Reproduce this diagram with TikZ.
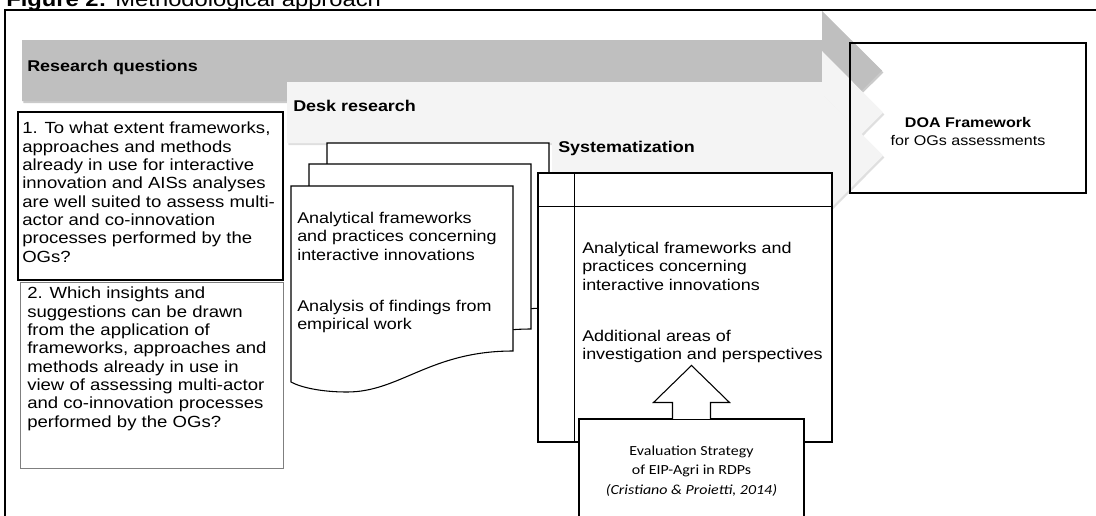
\documentclass[tikz,border=0pt]{standalone}
\usepackage{fontspec}
\setmainfont{Liberation Sans}[FakeStretch=1.15]
\newfontfamily\evalfont{Carlito}[FakeStretch=1.15]
\usepackage{xcolor}
\usepackage{tikz}
\usetikzlibrary{positioning,calc,fit,shadows}
\definecolor{rqgray}{HTML}{BFBFBF}
\definecolor{steplight}{HTML}{F4F4F4}
\definecolor{qgray}{HTML}{7F7F7F}
\tikzset{
  rqarrow/.style={fill=rqgray, drop shadow={shadow xshift=1pt, shadow yshift=-1.5pt, opacity=0.35, fill=black!60}},
  lightarrow/.style={fill=steplight, drop shadow={shadow xshift=1pt, shadow yshift=-1.5pt, opacity=0.25, fill=black!50}},
  steplabel/.style={font=\fontsize{11.7}{13.7}\selectfont\bfseries, anchor=base west, inner sep=0pt},
  qbox/.style={draw, fill=white, line width=1.1pt, inner sep=0pt},
  qtext/.style={font=\fontsize{12.1}{13.75}\selectfont, align=left, anchor=north west, inner sep=0pt},
  pagebox/.style={draw, fill=white, line width=0.8pt},
  bodytext/.style={font=\fontsize{11.7}{13.75}\selectfont, align=left, anchor=north west, inner sep=0pt},
  tabbox/.style={draw, fill=white, line width=0.9pt, inner sep=0pt},
  outbox/.style={draw, line width=0.8pt, inner sep=0pt},
}

\begin{document}
\begin{tikzpicture}[x=0.75pt, y=-0.75pt]
  \useasboundingbox (0,0) rectangle (1096,515);
  \clip (0,0) rectangle (1096,515);

  % Caption and frame
  \node[font=\fontsize{15.5}{18}\selectfont, anchor=base west, inner sep=0pt] (title) at (6,6) {\textbf{Figure 2:} Methodological approach};
  \draw[line width=1.5pt] (5,520) -- (5,9.5) -- (1100,9.5);

  % Research questions
  \fill[rqarrow] (22,40) -- (822,40) -- (822,11) -- (882,70.5) -- (822,130) -- (822,101) -- (22,101) -- cycle;
  \node[steplabel] (rq) at (27,71) {Research questions};

  \node[qbox, fit={(18,112) (283,280)}] (q1) {};
  \node[qtext] (q1txt) at (22,122) {1. To what extent frameworks,\\approaches and methods\\already in use for interactive\\innovation and AISs analyses\\are well suited to assess multi-\\actor and co-innovation\\processes performed by the\\OGs?};
  \node[qbox, draw=qgray, line width=0.6pt, fit={(20,282) (283,468)}] (q2) {};
  \node[qtext] (q2txt) at (27,287) {2. Which insights and\\suggestions can be drawn\\from the application of\\frameworks, approaches and\\methods already in use in\\view of assessing multi-actor\\and co-innovation processes\\performed by the OGs?};

  % Desk research
  \fill[lightarrow] (287,82) -- (822,82) -- (822,51) -- (883,112.5) -- (822,174) -- (822,143) -- (287,143) -- cycle;
  \node[steplabel] (desk) at (293,111) {Desk research};

  \foreach \dx/\dy in {36/-43, 18/-22, 0/0}
    \draw[pagebox, shift={(\dx,\dy)}] (291,186) -- (513,186) -- (513,351)
      .. controls (430,351) and (400,392) .. (347,392)
      .. controls (320,392) and (300,387) .. (291,382) -- cycle;
  \node[bodytext] (pgtxtA) at (297,212) {Analytical frameworks\\and practices concerning\\interactive innovations};
  \node[bodytext] (pgtxtB) at (297,300) {Analysis of findings from\\empirical work};

  % Systematization
  \fill[lightarrow] (552,125) -- (822,125) -- (822,94) -- (883,155.5) -- (822,217) -- (822,186) -- (552,186) -- cycle;
  \node[steplabel] (syst) at (558,152) {Systematization};

  \node[tabbox, fit={(538,173) (832,442)}] (systab) {};
  \draw[line width=0.9pt] ($(systab.north west)+(37,0)$) -- ($(systab.south west)+(37,0)$);
  \draw[line width=0.9pt] ($(systab.north west)+(0,34)$) -- ($(systab.north east)+(0,34)$);
  \node[bodytext] (tabtxtA) at (582,242) {Analytical frameworks and\\practices concerning\\interactive innovations};
  \node[bodytext] (tabtxtB) at (582,330) {Additional areas of\\investigation and perspectives};

  % Evaluation strategy feeding the systematization
  \node[tabbox, line width=0.8pt, fit={(579,419) (804,530)}] (eval) {};
  \node[font={\evalfont\fontsize{10.4}{14.5}\selectfont}, align=center, anchor=north, inner sep=0pt] (evaltxt) at (691.5,445.5) {Evaluation Strategy\\of EIP-Agri in RDPs\\\textit{(Cristiano \& Proietti, 2014)}};
  \draw[line width=0.8pt, fill=white] ($(eval.north)+(-19,0.5)$) -- ++(0,-16.5) -- ++(-19,0)
    -- ($(eval.north)+(0,-53)$) -- ($(eval.north)+(38,-16)$) -- ++(-19,0) -- ++(0,16.5);

  % Outcome
  \node[outbox, fit={(850,43) (1086,193)}] (doa) {};
  \node[font=\fontsize{10.5}{13.8}\selectfont, align=center, anchor=north, inner sep=0pt] (doatxt) at (968,117) {\textbf{DOA Framework}\\for OGs assessments};
\end{tikzpicture}
\end{document}
